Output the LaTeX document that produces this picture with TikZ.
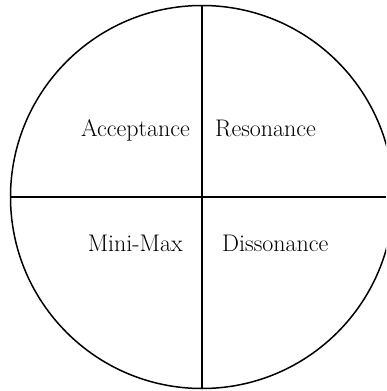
\documentclass[tikz,border=0pt]{standalone}
\begin{document}
\begin{tikzpicture}[x=1pt,y=-1pt,
  shape line/.style={line width=1.5pt,black},
  lbl/.style={inner sep=0pt,font=\fontsize{24}{28}\selectfont}]
\useasboundingbox (0,0) rectangle (386,391);
\begin{scope}
\clip (0,0) rectangle (386,391);
\draw[shape line] (202,197) circle[radius=191.5];
\end{scope}
\coordinate (top) at (202,5.5);
\coordinate (bot) at (202,388.5);
\coordinate (lft) at (10.5,197);
\coordinate (rgt) at (386,197);
\draw[shape line] (top) -- (bot);
\draw[shape line] (lft) -- (rgt);
\node[lbl,anchor=base east] (acc) at (190,136.5) {Acceptance};
\node[lbl,anchor=base west] (res) at (215,136.5) {Resonance};
\node[lbl,anchor=base east] (mm) at (183,251.5) {Mini-Max};
\node[lbl,anchor=base west] (dis) at (222,251.5) {Dissonance};
\end{tikzpicture}
\end{document}
